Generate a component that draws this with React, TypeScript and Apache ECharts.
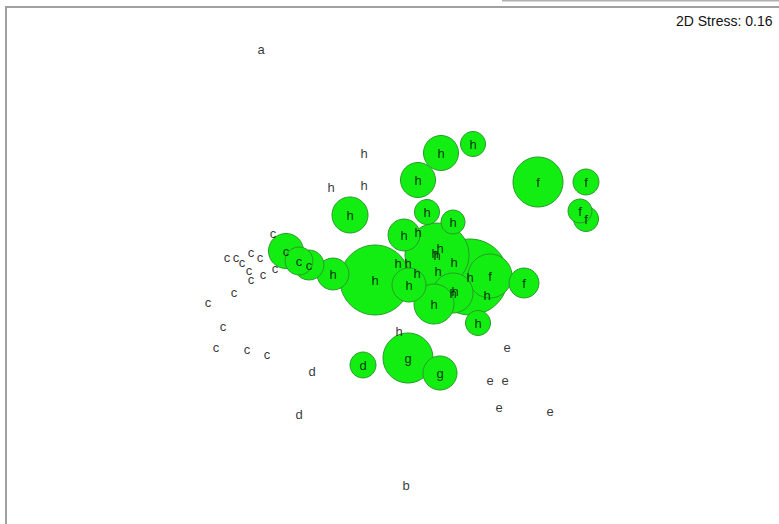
import React, { useEffect, useRef } from "react";
import * as echarts from "echarts";

// NMDS ordination: group label, NMDS1, NMDS2, bubble radius (0 = no bubble)
const groups: string[] = [
  "a", "h", "h", "h",
  "c", "c", "c", "c", "c", "c", "c", "c", "c", "c", "c", "c", "c", "c", "c", "c",
  "c", "c", "c", "h", "h", "h", "h", "h", "h",
  "f", "f", "f", "f",
  "h", "h", "h", "h", "h", "h", "h", "h", "h", "h", "h", "h", "h",
  "h", "f", "f", "h", "h", "h", "h", "h", "h",
  "d", "d", "d", "g", "g",
  "e", "e", "e", "e", "e", "b",
];
const nmds1: number[] = [
  -1.39, -0.36, -0.69, -0.36,
  -1.27, -1.73, -1.64, -1.58, -1.49, -1.4, -1.51, -1.49, -1.37, -1.25, -1.66, -1.92, -1.77, -1.84, -1.53, -1.33,
  -1.14, -1.01, -0.91, -0.67, -0.25, -0.5, 0.18, 0.41, 0.73,
  1.38, 1.86, 1.8, 1.86,
  0.27, 0.53, 0.04, 0.18, 0.37, 0.4, 0.54, 0.38, -0.02, 0.08, 0.17, 0.09, 0.35,
  0.7, 0.9, 1.24, 0.87, 0.53, 0.55, 0.34, 0.78, -0.01,
  -0.37, -0.88, -1.01, 0.08, 0.4,
  1.07, 0.9, 1.05, 0.99, 1.5, 0.06,
];
const nmds2: number[] = [
  2.31, 1.27, 0.93, 0.95,
  0.47, 0.23, 0.23, 0.18, 0.28, 0.23, 0.1, 0.01, 0.06, 0.12, -0.12, -0.22, -0.46, -0.67, -0.69, -0.74,
  0.29, 0.19, 0.15, 0.06, 0.0, 0.65, 1.0, 1.27, 1.36,
  0.98, 0.98, 0.69, 0.61,
  0.68, 0.58, 0.45, 0.48, 0.25, 0.32, 0.18, 0.09, 0.17, 0.17, 0.07, -0.05, 0.27,
  0.03, 0.04, -0.03, -0.15, -0.13, -0.11, -0.24, -0.43, -0.51,
  -0.85, -0.91, -1.34, -0.78, -0.93,
  -0.67, -1.0, -1.0, -1.27, -1.31, -2.05,
];
const radius: number[] = [
  0, 0, 0, 0,
  0, 0, 0, 0, 0, 0, 0, 0, 0, 0, 0, 0, 0, 0, 0, 0,
  17.5, 14, 15, 16, 35, 18, 17.5, 17.5, 12.5,
  25, 13, 12, 12.5,
  12.5, 12, 16, 0, 32, 0, 0, 0, 0, 0, 0, 17, 0,
  38, 22, 15, 0, 20, 0, 20, 12.5, 0,
  13, 0, 0, 25, 17,
  0, 0, 0, 0, 0, 0,
];
const stressLabel = "2D Stress: 0.16";

export default function App() {
  const ref = useRef<HTMLDivElement>(null);
  useEffect(() => {
    document.body.style.margin = "0";
    const chart = echarts.init(ref.current!, null, { renderer: "svg" });
    const bubbleIdx = radius
      .map((r, i) => i)
      .filter((i) => radius[i] > 0)
      .sort((a, b) => radius[b] - radius[a]);
    const bubbles = bubbleIdx.map((i) => ({
      value: [nmds1[i], nmds2[i]],
      symbolSize: radius[i] * 2,
    }));
    const labels = groups.map((g, i) => ({ value: [nmds1[i], nmds2[i]], name: g }));
    chart.setOption({
      animation: false,
      backgroundColor: "#ffffff",
      grid: { left: 0, right: 0, top: 0, bottom: 0 },
      xAxis: { type: "value", min: -4, max: 3.79, show: false },
      yAxis: { type: "value", min: -2.44, max: 2.8, show: false },
      graphic: [
        { type: "rect", shape: { x: 5, y: 6, width: 2, height: 520 }, style: { fill: "#a0a0a0" } },
        { type: "rect", shape: { x: 5, y: 6, width: 780, height: 2 }, style: { fill: "#a0a0a0" } },
        { type: "rect", shape: { x: 502, y: 0, width: 280, height: 1.5 }, style: { fill: "#b0b0b0" } },
        {
          type: "text",
          x: 676,
          y: 21,
          style: {
            text: stressLabel,
            fill: "#111",
            font: "14px Arial, 'Liberation Sans', sans-serif",
            verticalAlign: "middle",
          },
        },
      ],
      series: [
        {
          type: "scatter",
          data: bubbles,
          symbol: "circle",
          itemStyle: { color: "#12ee12", borderColor: "#2a9a2a", borderWidth: 1, opacity: 1 },
          silent: true,
        },
        {
          type: "scatter",
          data: labels,
          symbolSize: 0,
          itemStyle: { color: "#000" },
          label: {
            show: true,
            position: "inside",
            formatter: (p: any) => p.name,
            color: "#000000",
            textBorderWidth: 0,
            fontSize: 13,
            fontFamily: "Arial, 'Liberation Sans', sans-serif",
          },
          silent: true,
        },
      ],
    });
    return () => chart.dispose();
  }, []);
  return <div ref={ref} style={{ width: 779, height: 524 }} />;
}
